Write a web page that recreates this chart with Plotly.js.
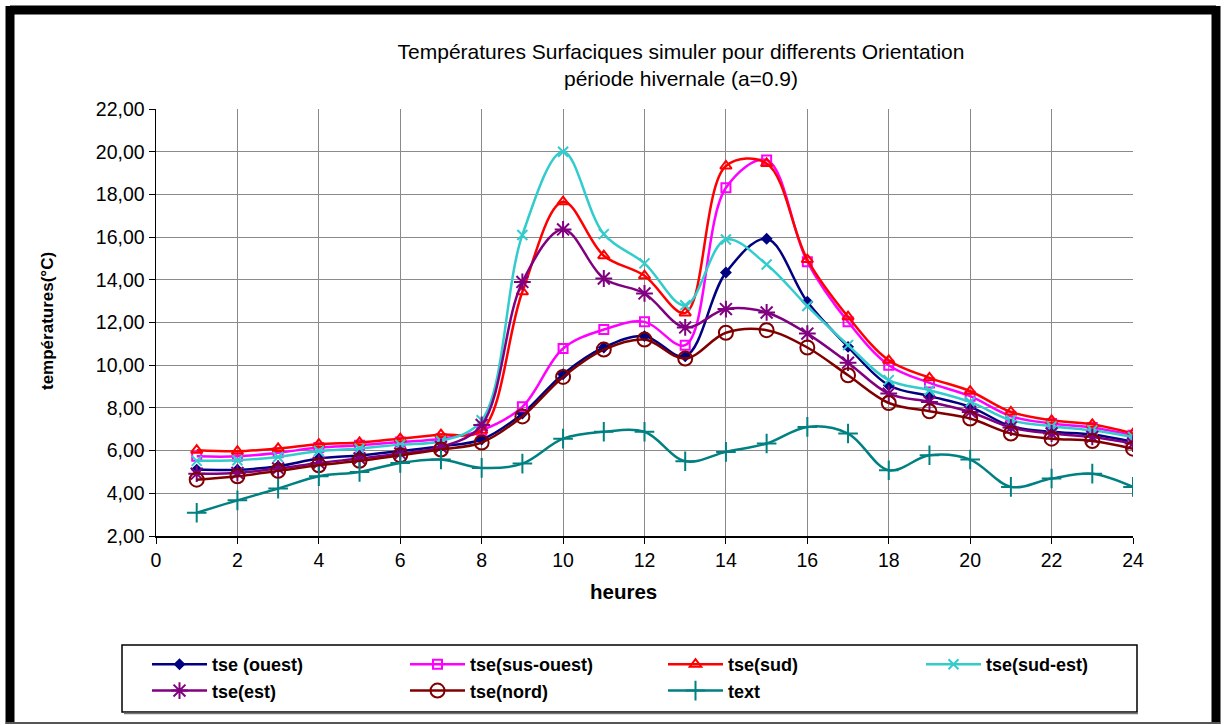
<!DOCTYPE html>
<html>
<head>
<meta charset="utf-8">
<script src="https://cdn.plot.ly/plotly-3.0.1.min.js"></script>
<style>
html,body{margin:0;padding:0;background:#fff;}
#chart{width:1224px;height:725px;}
</style>
</head>
<body>
<div id="chart"></div>
<script>
const hours = [1,2,3,4,5,6,7,8,9,10,11,12,13,14,15,16,17,18,19,20,21,22,23,24];

const tseOuest   = [5.11,5.10,5.27,5.63,5.77,5.98,6.20,6.52,7.73,9.58,10.83,11.36,10.42,14.34,15.92,12.97,10.86,9.06,8.55,8.05,7.14,6.88,6.75,6.41];
const tseSusOuest= [5.73,5.73,5.90,6.14,6.25,6.40,6.56,6.95,8.05,10.78,11.67,12.03,10.94,18.31,19.61,14.84,12.03,10.00,9.17,8.55,7.61,7.27,7.08,6.72];
const tseSud     = [6.02,5.97,6.10,6.30,6.38,6.56,6.75,6.95,13.44,17.66,15.13,14.19,12.45,19.33,19.45,14.95,12.27,10.23,9.41,8.78,7.81,7.42,7.23,6.80];
const tseSudEst  = [5.52,5.55,5.70,5.98,6.10,6.28,6.45,7.42,16.10,20.00,16.14,14.77,12.81,15.89,14.72,12.77,10.94,9.30,8.83,8.28,7.42,7.14,6.95,6.64];
const tseEst     = [4.92,4.95,5.16,5.42,5.63,5.86,6.17,7.20,13.90,16.36,14.06,13.36,11.77,12.63,12.47,11.48,10.12,8.67,8.28,7.81,7.08,6.80,6.64,6.33];
const tseNord    = [4.64,4.80,5.05,5.31,5.52,5.78,6.05,6.38,7.60,9.45,10.73,11.20,10.31,11.52,11.64,10.83,9.53,8.23,7.84,7.50,6.80,6.56,6.45,6.09];
const tText      = [3.09,3.67,4.22,4.80,5.00,5.42,5.58,5.19,5.39,6.56,6.88,6.88,5.50,5.94,6.33,7.11,6.80,5.08,5.78,5.58,4.30,4.69,4.92,4.30];

const seriesNames = ['tse (ouest)','tse(sus-ouest)','tse(sud)','tse(sud-est)','tse(est)','tse(nord)','text'];
const seriesData = [tseOuest,tseSusOuest,tseSud,tseSudEst,tseEst,tseNord,tText];
const seriesColors = ['#000080','#FF00FF','#FF0000','#33CCCC','#800080','#800000','#008080'];
const seriesSymbols = ['diamond','square-open','triangle-up-open','x-thin-open','asterisk-open','circle-open','cross-thin-open'];
const seriesSizes = [7,9,10,10,14,14,14];

const xTicks = [0,2,4,6,8,10,12,14,16,18,20,22,24];
const yTicks = [2,4,6,8,10,12,14,16,18,20,22];

const W = 1224, H = 725;
const L = 156, R = 1133, T = 109, B = 536;
const px = x => (x - L) / (R - L);
const py = y => (B - y) / (B - T);
const FONT = '"Liberation Sans", Arial, sans-serif';

const traces = seriesNames.map((n,i) => ({
  type:'scatter', mode:'lines+markers', name:n,
  x:hours, y:seriesData[i],
  line:{color:seriesColors[i], width:2.5, shape:'spline', smoothing:1},
  marker:{symbol:seriesSymbols[i], size:seriesSizes[i], color:seriesColors[i],
          line:{color:seriesColors[i], width:2}}
}));

const layout = {
  width:W, height:H,
  margin:{l:L, r:W-R, t:T, b:H-B, autoexpand:false},
  paper_bgcolor:'#ffffff', plot_bgcolor:'#ffffff',
  separators:', ',
  font:{family:FONT, color:'#000', size:20},
  title:{text:'Températures Surfaciques simuler pour differents Orientation<br>période hivernale (a=0.9)',
         font:{size:21, family:FONT},
         x:px(681), xref:'paper', xanchor:'center', y:1-58.5/H, yanchor:'middle', yref:'container'},
  xaxis:{range:[0,24], tickvals:xTicks, ticktext:xTicks.map(String),
         showgrid:true, gridcolor:'#8a8a8a', gridwidth:1, zeroline:false,
         showline:true, linecolor:'#000', linewidth:1.5,
         ticks:'outside', ticklen:6, tickcolor:'#000', tickfont:{size:19.5}},
  yaxis:{range:[2,22], tickvals:yTicks, tickformat:'.2f',
         showgrid:true, gridcolor:'#8a8a8a', gridwidth:1, zeroline:false,
         showline:true, linecolor:'#000', linewidth:1.5,
         ticks:'outside', ticklen:6, tickcolor:'#000', tickfont:{size:19.5}},
  annotations:[
    {text:'<b>heures</b>', xref:'paper', yref:'paper', x:px(623.5), y:py(591),
     xanchor:'center', yanchor:'middle', showarrow:false, font:{size:20.5, family:FONT}},
    {text:'<b>températures(°C)</b>', xref:'paper', yref:'paper', x:px(47), y:py(321),
     xanchor:'center', yanchor:'middle', textangle:-90, showarrow:false, font:{size:17, family:FONT}}
  ],
  showlegend:true,
  legend:{orientation:'h', x:px(147), xanchor:'left', y:py(646), yanchor:'top',
          entrywidth:188, bgcolor:'rgba(0,0,0,0)', borderwidth:0,
          font:{size:18, family:FONT, weight:'bold'},
          tracegroupgap:0, itemwidth:55},
  shapes:[
    {type:'rect', xref:'paper', yref:'paper', x0:px(122), x1:px(1137), y0:py(645), y1:py(712),
     line:{color:'#000', width:1.5}, fillcolor:'rgba(0,0,0,0)'},
    {type:'line', xref:'paper', yref:'paper', x0:px(124), x1:px(1138), y0:py(713.5), y1:py(713.5), line:{color:'#777', width:1.5}},
    {type:'line', xref:'paper', yref:'paper', x0:px(10), x1:px(1216), y0:py(10), y1:py(10), line:{color:'#000', width:9}},
    {type:'line', xref:'paper', yref:'paper', x0:px(10), x1:px(10), y0:py(6), y1:py(724), line:{color:'#000', width:9}},
    {type:'line', xref:'paper', yref:'paper', x0:px(1216), x1:px(1216), y0:py(6), y1:py(724), line:{color:'#000', width:9}},
    {type:'line', xref:'paper', yref:'paper', x0:px(6), x1:px(1220), y0:py(723), y1:py(723), line:{color:'#555', width:2}}
  ]
};

Plotly.newPlot('chart', traces, layout, {displayModeBar:false, staticPlot:true});
</script>
</body>
</html>
